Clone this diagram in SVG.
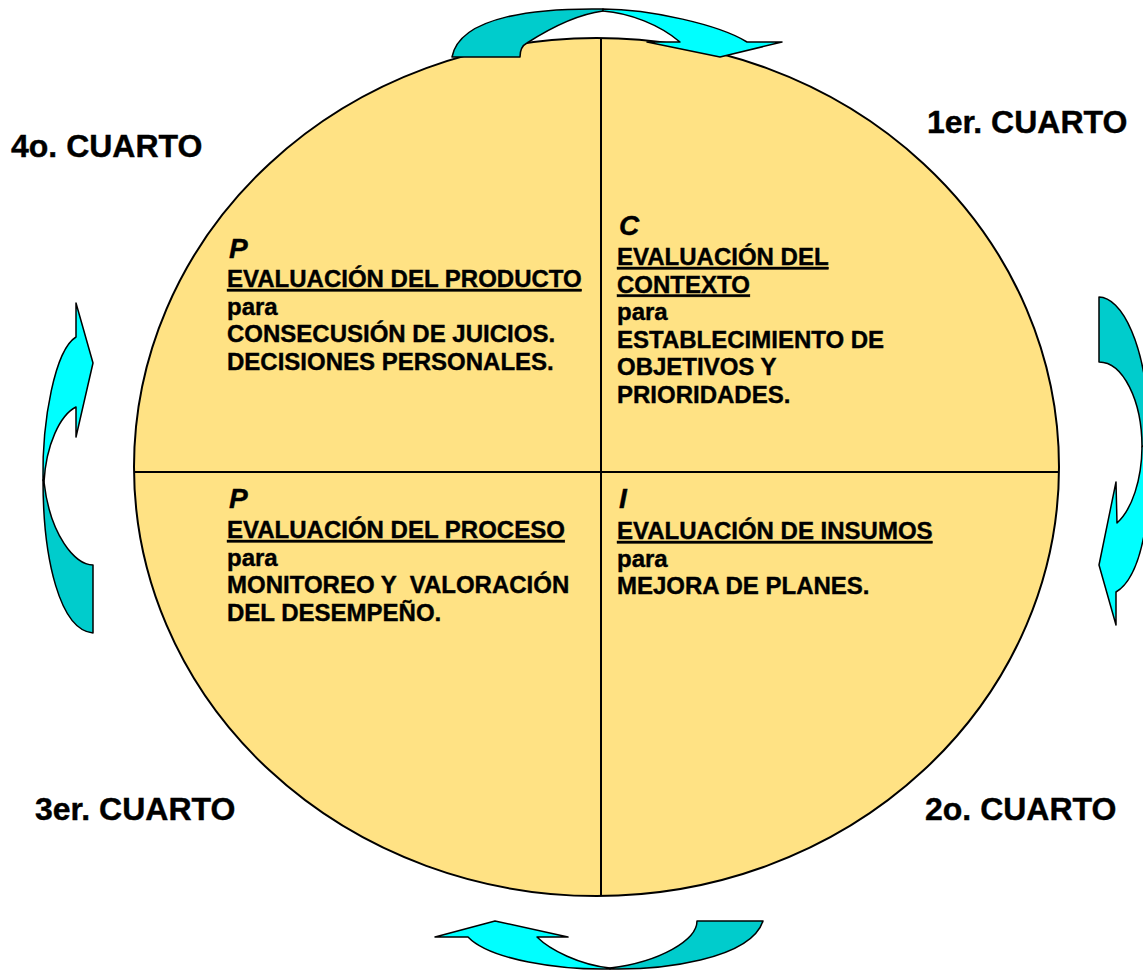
<svg xmlns="http://www.w3.org/2000/svg" width="1143" height="971" viewBox="0 0 1143 971">
<style>
.t{font-family:"Liberation Sans",Arial,sans-serif;font-weight:bold;font-size:24px;fill:#000;stroke:#000;stroke-width:0.4}
.q{font-family:"Liberation Sans",Arial,sans-serif;font-weight:bold;font-size:32px;fill:#000;stroke:#000;stroke-width:0.4}
.l{font-family:"Liberation Sans",Arial,sans-serif;font-weight:bold;font-style:italic;font-size:28px;fill:#000;stroke:#000;stroke-width:0.4}
.u{text-decoration:underline}
.dk{fill:#00CCCC;stroke:#000;stroke-width:1.5;stroke-linejoin:round}
.lt{fill:#00FFFF;stroke:#000;stroke-width:1.5;stroke-linejoin:round}
.ln{stroke:#000;stroke-width:2;fill:none}
</style>
<rect width="1143" height="971" fill="#fff"/>
<g id="circle">
<ellipse cx="596.5" cy="467" rx="462.5" ry="429" fill="#FFE284" stroke="#000" stroke-width="2"/>
<line class="ln" x1="601" y1="38" x2="601" y2="896"/>
<line class="ln" x1="134" y1="472" x2="1059" y2="472"/>
</g>
<g id="q-producto">
<text class="l" x="229" y="258">P</text>
<text class="t u" x="227" y="287">EVALUACIÓN DEL PRODUCTO</text>
<text class="t" x="227" y="314.5">para</text>
<text class="t" x="227" y="342">CONSECUSIÓN DE JUICIOS.</text>
<text class="t" x="227" y="369.5">DECISIONES PERSONALES.</text>
</g>
<g id="q-contexto">
<text class="l" x="619" y="235">C</text>
<text class="t u" x="617" y="265">EVALUACIÓN DEL</text>
<text class="t u" x="617" y="292.5">CONTEXTO</text>
<text class="t" x="617" y="320">para</text>
<text class="t" x="617" y="347.5">ESTABLECIMIENTO DE</text>
<text class="t" x="617" y="375">OBJETIVOS Y</text>
<text class="t" x="617" y="402.5">PRIORIDADES.</text>
</g>
<g id="q-proceso">
<text class="l" x="229" y="508">P</text>
<text class="t u" x="227" y="538">EVALUACIÓN DEL PROCESO</text>
<text class="t" x="227" y="565.5">para</text>
<text class="t" x="227" y="593" xml:space="preserve">MONITOREO Y  VALORACIÓN</text>
<text class="t" x="227" y="620.5">DEL DESEMPEÑO.</text>
</g>
<g id="q-insumos">
<text class="l" x="619" y="508">I</text>
<text class="t u" x="617" y="539">EVALUACIÓN DE INSUMOS</text>
<text class="t" x="617" y="566.5">para</text>
<text class="t" x="617" y="594">MEJORA DE PLANES.</text>
</g>
<g id="labels">
<text class="q" x="927" y="133">1er. CUARTO</text>
<text class="q" x="925" y="820">2o. CUARTO</text>
<text class="q" x="35" y="820">3er. CUARTO</text>
<text class="q" x="11" y="157">4o. CUARTO</text>
</g>
<g id="connectors">
<g id="arrow-top">
<path class="dk" d="M452,57 L520,57 C520,49 523,45 527,43 C555,25 580,14 603,11 L603,9 C540,8 460,15 452,57 Z"/>
<path class="lt" d="M603,9 C650,9 720,25 747,42 L782,42 L720,57 L647,42 L680,42 C660,25 630,13 603,11 Z"/>
</g>
<g id="arrow-right">
<path class="dk" d="M1099,297 C1120,297 1148,340 1150,440 L1142,447 A43,85 0 0 0 1099,362 Z"/>
<path class="lt" d="M1142,447 L1150,440 C1152,500 1145,575 1116,592 L1116,625 L1099,565 L1116,482 L1117,523 A43,85 0 0 0 1142,447 Z"/>
</g>
<g id="arrow-bottom">
<path class="dk" d="M610,969 C660,970 750,960 763,921 L697,921 C697,940 660,962 610,968 Z"/>
<path class="lt" d="M610,969 C560,970 490,960 468,937 L435,937 L495,921 L568,937 L537,937 C550,950 580,965 610,968 Z"/>
</g>
<g id="arrow-left">
<path class="dk" d="M93,633 L93,565 C75,565 50,535 44,482 L43,480 C43,560 60,630 93,633 Z"/>
<path class="lt" d="M43,480 C42,420 55,350 76,337 L76,303 L93,363 L76,437 L76,407 C60,415 46,445 44,482 Z"/>
</g>
</g>
</svg>
